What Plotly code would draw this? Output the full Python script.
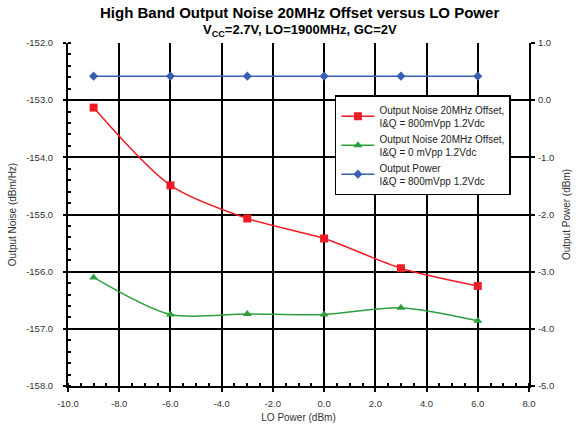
import plotly.graph_objects as go

lo_power = [-9, -6, -3, 0, 3, 6]
noise_800 = [-153.13, -154.49, -155.07, -155.42, -155.94, -156.25]
noise_0 = [-156.10, -156.75, -156.74, -156.75, -156.63, -156.86]
out_power = [0.42, 0.42, 0.42, 0.42, 0.42, 0.42]

x_ticks = [-10, -8, -6, -4, -2, 0, 2, 4, 6, 8]
y_ticks = [-158, -157, -156, -155, -154, -153, -152]
y2_ticks = [-5, -4, -3, -2, -1, 0, 1]

title_main = "High Band Output Noise 20MHz Offset versus LO Power"
title_sub = "V<sub>CC</sub>=2.7V, LO=1900MHz, GC=2V"

font = "Liberation Sans, Arial, sans-serif"

fig = go.Figure()
fig.add_trace(go.Scatter(
    x=lo_power, y=noise_800, mode="lines+markers",
    name="Output Noise 20MHz Offset,<br>I&Q = 800mVpp 1.2Vdc",
    line=dict(color="#ee1c24", width=1.5, shape="spline", smoothing=0.8),
    marker=dict(symbol="square", size=8, color="#ee1c24"),
))
fig.add_trace(go.Scatter(
    x=lo_power, y=noise_0, mode="lines+markers",
    name="Output Noise 20MHz Offset,<br>I&Q = 0 mVpp 1.2Vdc",
    line=dict(color="#2e9e3e", width=1.5, shape="spline", smoothing=0.8),
    marker=dict(symbol="triangle-up", size=8, color="#2e9e3e"),
))
fig.add_trace(go.Scatter(
    x=lo_power, y=out_power, mode="lines+markers", yaxis="y2",
    name="Output Power<br>I&Q = 800mVpp 1.2Vdc",
    line=dict(color="#3a5fb0", width=1.5),
    marker=dict(symbol="diamond", size=7, color="#3a5fb0"),
))

fig.add_annotation(text=f"<b>{title_main}</b>", xref="paper", yref="paper",
                   x=0.503, y=1.0875, xanchor="center", yanchor="middle", showarrow=False,
                   font=dict(family=font, size=15, color="black"))
fig.add_annotation(text=f"<b>{title_sub}</b>", xref="paper", yref="paper",
                   x=0.503, y=1.035, xanchor="center", yanchor="middle", showarrow=False,
                   font=dict(family=font, size=13, color="black"))

fig.update_layout(
    width=587, height=435,
    margin=dict(l=68, r=58, t=43, b=49),
    paper_bgcolor="white", plot_bgcolor="white",
    font=dict(family=font, size=9.5, color="#333333"),
    xaxis=dict(
        range=[-10, 8], tickvals=x_ticks,
        ticktext=[f"{v:.1f}" for v in x_ticks],
        showgrid=True, gridcolor="black", gridwidth=1.5,
        zeroline=False, showline=True, linecolor="black", linewidth=2,
        ticks="outside", ticklen=4, tickcolor="black", tickwidth=1.5,
        minor=dict(dtick=0.5, ticks="inside", ticklen=3, tickcolor="black", showgrid=False),
        ticklabelstandoff=4,
        title=dict(text="LO Power (dBm)", font=dict(size=10, color="#333333"), standoff=6),
    ),
    yaxis=dict(
        range=[-158, -152], tickvals=y_ticks,
        ticktext=[f"{v:.1f}" for v in y_ticks],
        showgrid=True, gridcolor="black", gridwidth=1.5,
        zeroline=False, showline=True, linecolor="black", linewidth=2,
        ticks="outside", ticklen=3, tickcolor="black", tickwidth=1.5,
        minor=dict(dtick=0.2, ticks="inside", ticklen=3, tickcolor="black", showgrid=False),
        ticklabelstandoff=8,
        title=dict(text="Output Noise (dBm/Hz)", font=dict(size=10, color="#333333"), standoff=8),
    ),
    yaxis2=dict(
        range=[-5, 1], tickvals=y2_ticks,
        ticktext=[f"{v:.1f}" for v in y2_ticks],
        overlaying="y", side="right", showgrid=False,
        zeroline=False, showline=True, linecolor="black", linewidth=2,
        ticks="outside", ticklen=4, tickcolor="black", tickwidth=1.5,
        ticklabelstandoff=1,
        title=dict(text="Output Power (dBm)", font=dict(size=10, color="#333333"), standoff=10),
    ),
    legend=dict(
        x=0.579, y=0.848, xanchor="left", yanchor="top",
        bgcolor="white", bordercolor="black", borderwidth=1.5,
        font=dict(family=font, size=10, color="#222222"),
        tracegroupgap=10, itemwidth=33,
    ),
    showlegend=True,
)

fig.write_html("out.html", config={"displayModeBar": False},
               post_script="document.body.style.margin='0';")
